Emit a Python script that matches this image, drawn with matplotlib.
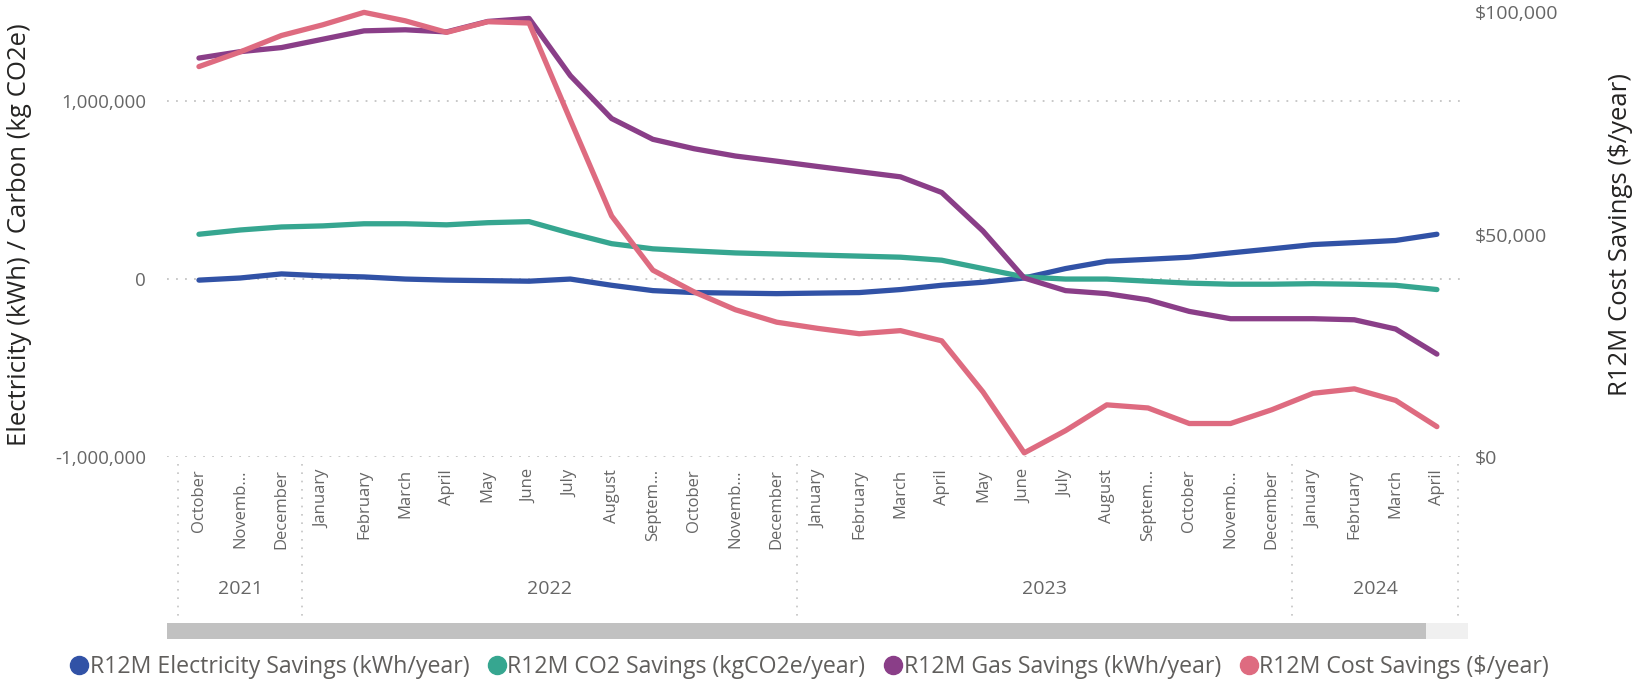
import matplotlib.pyplot as plt
import matplotlib.transforms as mtransforms
from matplotlib.lines import Line2D
from matplotlib.patches import Rectangle
from matplotlib.ticker import FuncFormatter

plt.rcParams['font.family'] = ['Open Sans', 'DejaVu Sans']

# month axis, Oct 2021 .. Apr 2024
month_labels = ['October', 'Novemb...', 'December',
                'January', 'February', 'March', 'April', 'May', 'June', 'July',
                'August', 'Septem...', 'October', 'Novemb...', 'December',
                'January', 'February', 'March', 'April', 'May', 'June', 'July',
                'August', 'Septem...', 'October', 'Novemb...', 'December',
                'January', 'February', 'March', 'April']
years = ['2021', '2022', '2023', '2024']
year_counts = [3, 12, 12, 4]

# left axis series (kWh / kgCO2e)
electricity = [-6e3, 6e3, 29e3, 18e3, 12e3, 0, -6e3, -9e3, -12e3, 0,
               -35e3, -65e3, -76e3, -79e3, -82e3, -79e3, -76e3, -59e3, -35e3, -18e3,
               6e3, 59e3, 100e3, 111e3, 123e3, 147e3, 170e3, 194e3, 205e3, 217e3, 252e3]
co2 = [252e3, 276e3, 293e3, 299e3, 311e3, 311e3, 305e3, 317e3, 323e3, 258e3,
       199e3, 170e3, 158e3, 147e3, 141e3, 135e3, 129e3, 123e3, 106e3, 59e3,
       12e3, 0, 0, -12e3, -23e3, -29e3, -29e3, -26e3, -29e3, -35e3, -59e3]
gas = [1243e3, 1279e3, 1302e3, 1349e3, 1396e3, 1402e3, 1390e3, 1449e3, 1466e3, 1144e3,
       903e3, 786e3, 733e3, 692e3, 663e3, 633e3, 604e3, 575e3, 487e3, 270e3,
       6e3, -65e3, -82e3, -117e3, -182e3, -223e3, -223e3, -223e3, -229e3, -281e3, -422e3]
# right axis series ($/year)
cost = [87.8e3, 91.1e3, 94.8e3, 97.2e3, 100e3, 98.1e3, 95.5e3, 97.9e3, 97.6e3, 75.8e3,
        54.2e3, 42.0e3, 37.1e3, 33.1e3, 30.3e3, 28.9e3, 27.7e3, 28.4e3, 26.1e3, 14.6e3,
        0.9e3, 5.9e3, 11.7e3, 11.0e3, 7.5e3, 7.5e3, 10.6e3, 14.3e3, 15.3e3, 12.7e3, 6.8e3]

series_names = ['R12M Electricity Savings (kWh/year)', 'R12M CO2 Savings (kgCO2e/year)',
                'R12M Gas Savings (kWh/year)', 'R12M Cost Savings ($/year)']
colors = ['#3152A6', '#36A690', '#8A3E88', '#DE6B80']

grey = '#666666'
lw = 3.8

fig = plt.figure(figsize=(16.35, 6.87), dpi=100)
ax = fig.add_axes([0.102, 0.335, 0.794, 0.647])
x = list(range(len(month_labels)))

for vals, c in zip([electricity, co2, gas], colors[:3]):
    ax.plot(x, vals, color=c, lw=lw, solid_joinstyle='round', solid_capstyle='round', clip_on=False)

ax2 = ax.twinx()
ax2.plot(x, cost, color=colors[3], lw=lw, solid_joinstyle='round', solid_capstyle='round', clip_on=False)

ax.set_xlim(-0.78, 30.68)
ax.set_ylim(-1e6, 1.5e6)
ax2.set_ylim(0, 100000)

ax.set_yticks([-1e6, 0, 1e6])
ax.yaxis.set_major_formatter(FuncFormatter(lambda v, p: f'{v:,.0f}'))
ax2.set_yticks([0, 50000, 100000])
ax2.yaxis.set_major_formatter(FuncFormatter(lambda v, p: f'${v:,.0f}'))

ax.grid(axis='y', linestyle=(0, (1, 4)), color='#c4c4c4', lw=1.3)
ax.set_axisbelow(True)
for a in (ax, ax2):
    for s in a.spines.values():
        s.set_visible(False)

ax.tick_params(axis='y', length=0, pad=15, labelsize=13.5, labelcolor=grey)
ax2.tick_params(axis='y', length=0, pad=7, labelsize=14, labelcolor=grey)
ax.set_xticks(x)
ax.set_xticklabels(month_labels, rotation=90, fontsize=12, color=grey, va='top')
ax.tick_params(axis='x', length=0, pad=9)

ax.set_ylabel('Electricity (kWh) / Carbon (kg CO2e)', fontsize=18.5, color='#252423')
ax.yaxis.set_label_coords(-0.104, 0.5)
ax2.set_ylabel('R12M Cost Savings ($/year)', fontsize=18.5, color='#252423', rotation=90)
ax2.yaxis.set_label_coords(1.11, 0.5)

# year groups under the month labels
trans = mtransforms.blended_transform_factory(ax.transData, ax.transAxes)
start = 0
bounds = [-0.5]
for yr, n in zip(years, year_counts):
    ax.text(start + (n - 1) / 2, -0.298, yr, transform=trans, ha='center', va='center',
            fontsize=14, color=grey)
    start += n
    bounds.append(start - 0.5)
for b in bounds:
    ax.plot([b, b], [-0.016, -0.357], transform=trans, color='#c4c4c4',
            lw=1.2, linestyle=(0, (1, 4)), clip_on=False)

# scrollbar
fig.patches.append(Rectangle((0.102, 0.070), 0.770, 0.023, transform=fig.transFigure,
                             facecolor='#c1c1c1', edgecolor='none'))
fig.patches.append(Rectangle((0.872, 0.070), 0.026, 0.023, transform=fig.transFigure,
                             facecolor='#f0f0f0', edgecolor='none'))

handles = [Line2D([], [], marker='o', ls='none', color=c, markersize=13) for c in colors]
fig.legend(handles, series_names, loc='center left', bbox_to_anchor=(0.042, 0.029), ncol=4,
           frameon=False, fontsize=16.7, labelcolor='#605E5C', handletextpad=0.0,
           columnspacing=0.75, handlelength=0.9, borderpad=0, borderaxespad=0)

fig.savefig('out.png', dpi=100)
